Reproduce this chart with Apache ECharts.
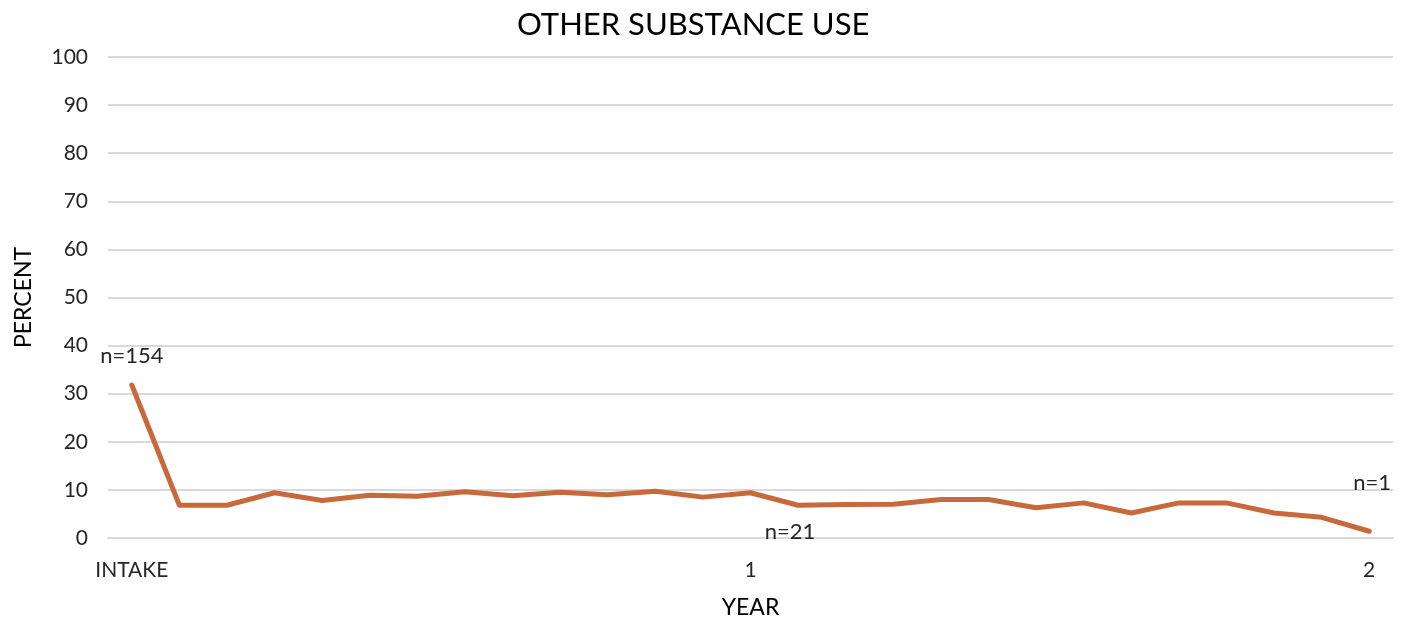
<!DOCTYPE html>
<html>
<head>
<meta charset="utf-8">
<script src="https://cdn.jsdelivr.net/npm/echarts@6/dist/echarts.min.js"></script>
<style>
  html, body { margin: 0; padding: 0; background: #ffffff; }
  #chart { width: 1412px; height: 622px; }
</style>
</head>
<body>
<div id="chart"></div>
<script>
// Time points: intake, then follow-ups up to year 2
const categories = ['INTAKE', '', '', '', '', '', '', '', '', '', '', '', '', '1',
  '', '', '', '', '', '', '', '', '', '', '', '', '2'];
// Percent reporting other substance use at each time point
const percentValues = [31.8, 6.8, 6.8, 9.4, 7.8, 8.9, 8.7, 9.6, 8.8, 9.5, 9.0, 9.7, 8.5, 9.4,
  6.8, 6.95, 7.0, 8.0, 8.0, 6.3, 7.3, 5.2, 7.3, 7.3, 5.2, 4.3, 1.4];
// Sample-size annotations (index -> text)
const sampleLabelIdx = [0, 14, 26];
const sampleLabelText = ['n=154', 'n=21', 'n=1'];
const yTicks = [0, 10, 20, 30, 40, 50, 60, 70, 80, 90, 100];

const FONT = 'Lato, "Open Sans", sans-serif';
const labelOffsets = { 0: [0, -13], 14: [-8, 27], 26: [3, -32] };
const labelPositions = { 0: 'top', 14: 'inside', 26: 'top' };

const seriesData = percentValues.map((v, i) => {
  const k = sampleLabelIdx.indexOf(i);
  if (k < 0) return v;
  return {
    value: v,
    label: {
      show: true,
      formatter: sampleLabelText[k],
      position: labelPositions[i],
      offset: labelOffsets[i],
      fontSize: 22,
      fontFamily: FONT,
      color: '#262626'
    }
  };
});

const chart = echarts.init(document.getElementById('chart'), null, { renderer: 'canvas' });
chart.setOption({
  animation: false,
  backgroundColor: '#ffffff',
  title: {
    text: 'OTHER SUBSTANCE USE',
    left: 512,
    top: 4,
    textStyle: { fontFamily: FONT, fontSize: 31, fontWeight: 'normal', color: '#000000' }
  },
  grid: { left: 108, right: 19, top: 57, bottom: 84, containLabel: false, outerBoundsMode: 'none' },
  xAxis: {
    type: 'category',
    data: categories,
    boundaryGap: true,
    name: 'YEAR',
    nameLocation: 'middle',
    nameGap: 58,
    nameTextStyle: { fontFamily: FONT, fontSize: 23, color: '#000000' },
    axisLine: { show: true, lineStyle: { color: '#d9d9d9', width: 2 } },
    axisTick: { show: false },
    axisLabel: { interval: 0, margin: 22, fontFamily: FONT, fontSize: 21, color: '#262626' }
  },
  yAxis: {
    type: 'value',
    min: yTicks[0],
    max: yTicks[yTicks.length - 1],
    interval: yTicks[1] - yTicks[0],
    name: 'PERCENT',
    nameLocation: 'middle',
    nameGap: 73,
    nameRotate: 90,
    nameTextStyle: { fontFamily: FONT, fontSize: 23, color: '#000000' },
    axisLine: { show: false },
    axisTick: { show: false },
    axisLabel: { margin: 20, fontFamily: FONT, fontSize: 21, color: '#262626' },
    splitLine: { lineStyle: { color: '#d9d9d9', width: 2 } }
  },
  series: [{
    type: 'line',
    data: seriesData,
    symbol: 'circle',
    symbolSize: 0,
    showSymbol: true,
    lineStyle: { color: '#c8693c', width: 5, cap: 'round', join: 'round' },
    itemStyle: { color: '#c8693c' }
  }]
});
</script>
</body>
</html>
